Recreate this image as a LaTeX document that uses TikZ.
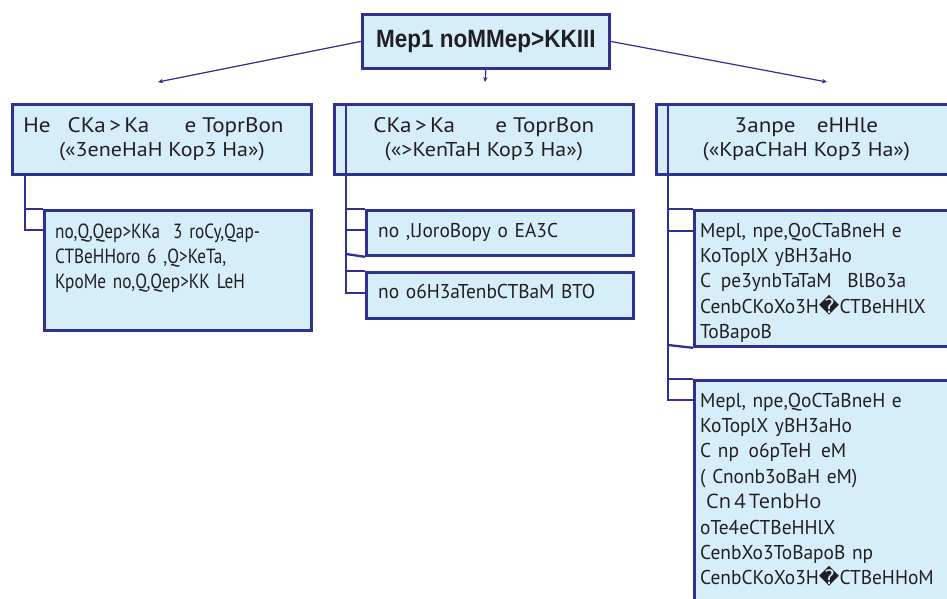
\documentclass[tikz,border=0pt]{standalone}
\usepackage{fontspec}
\usetikzlibrary{arrows.meta}
\setmainfont{PT Sans}
\newfontfamily\titlefont{Liberation Sans}[FakeStretch=0.9]
\newfontfamily\headfont{PT Sans}[FakeStretch=1.1]
\newfontfamily\bodyfont{PT Sans}[FakeStretch=0.97]
\newfontfamily\condfont{PT Sans}[FakeStretch=0.84]
\newfontfamily\widefont{Open Sans}
\newfontfamily\repfont{DejaVu Sans}
\newcommand{\repch}{{\repfont\char"FFFD}}
\definecolor{dblue}{HTML}{2E3192}
\definecolor{lblue}{HTML}{D5EEFA}
\definecolor{tgray}{HTML}{231F20}
\begin{document}
\begin{tikzpicture}[x=1pt,y=-1pt,
  boxframe/.style={draw=dblue, line width=2.8pt, fill=lblue, inner sep=0pt, anchor=north west},
  conn/.style={draw=dblue, line width=2.3pt},
  arr/.style={draw=dblue, line width=1.2pt, -{Stealth[length=5pt,width=4.5pt]}},
  headtxt/.style={text=tgray, align=center, font=\headfont\fontsize{20}{24}\selectfont},
  bodytxt/.style={text=tgray, inner sep=0pt, anchor=base west, align=left, text width=250pt, font=\bodyfont\fontsize{20}{25.4}\selectfont}]
\useasboundingbox (0,0) rectangle (947,598);
\clip (0,0) rectangle (947,598);
\fill[white] (0,0) rectangle (947,598);

% top
\node[boxframe, minimum width=247pt, minimum height=54pt, text=tgray,
  font=\titlefont\bfseries\fontsize{25}{30}\selectfont] (top) at (361,13) {Mep1 noMMep>KKIII};
\coordinate (aL) at (158,82);
\coordinate (aM) at (485,82);
\coordinate (aR) at (827,82);
\draw[arr] (top.west) -- (aL);
\draw[arr] (top.south) -- (aM);
\draw[arr] (top.east) -- (aR);

% headers
\node[boxframe, minimum width=299pt, minimum height=70pt, headtxt] (hL) at (11,103)
  {{\fontsize{21}{24}\selectfont He\hspace{11pt} CKa\,>\,Ka\hspace{29pt} e ToprBon\hspace*{17pt}}\\(«3eneHaH Kop3 Ha»)};
\node[boxframe, minimum width=299pt, minimum height=70pt, headtxt] (hM) at (333,103)
  {{\fontsize{21}{24}\selectfont CKa\,>\,Ka\hspace{34pt} e ToprBon}\\(«>KenTaH Kop3 Ha»)};
\node[boxframe, minimum width=300pt, minimum height=70pt, headtxt] (hR) at (655,103)
  {{\fontsize{21}{24}\selectfont 3anpe\hspace{15pt} eHHle}\\(«KpaCHaH Kop3 Ha»)};

% children
\node[boxframe, minimum width=267pt, minimum height=120pt] (cL1) at (43,209) {};
\node[boxframe, minimum width=267pt, minimum height=45pt] (cM1) at (365,209) {};
\node[boxframe, minimum width=267pt, minimum height=46pt] (cM2) at (365,271) {};
\node[boxframe, minimum width=262pt, minimum height=136pt] (cR1) at (693,209) {};
\node[boxframe, minimum width=262pt, minimum height=240pt] (cR2) at (693,379) {};

% texts
\node[bodytxt, font=\condfont\fontsize{20.5}{25}\selectfont] (tL1) at ([xshift=12pt,yshift=-29pt]cL1.north west)
  {no,Q,Qep>KKa\hspace{6pt} 3 roCy,Qap-\\CTBeHHoro 6 ,Q>KeTa,\\KpoMe no,Q,Qep>KK LeH};
\node[bodytxt] (tM1) at ([xshift=13pt,yshift=-28pt]cM1.north west) {no ,l\kern1ptJoroBopy o EA3C};
\node[bodytxt] (tM2) at ([xshift=13pt,yshift=-27pt]cM2.north west) {no o6H3aTenbCTBaM BTO};
\node[bodytxt] (tR1) at ([xshift=7pt,yshift=-28pt]cR1.north west)
  {Mepl, npe,QoCTaBneH e\\KoToplX yBH3aHo\\C\hspace{3pt} pe3ynbTaTaM\hspace{9pt} BlBo3a\\CenbCKoXo3H\repch CTBeHHlX\\ToBapoB};
\node[bodytxt] (tR2) at ([xshift=7pt,yshift=-28pt]cR2.north west)
  {Mepl, npe,QoCTaBneH e\\KoToplX yBH3aHo\\C np\hspace{3pt} o6pTeH\hspace{3pt} eM\\( Cnonb3oBaH eM)\\\hspace*{6pt}{\widefont Cn\,4\,TenbHo}\\oTe4eCTBeHHlX\\CenbXo3ToBapoB np\\CenbCKoXo3H\repch CTBeHHoM};

% connectors
\coordinate (vL0) at (25,173); \coordinate (vL1) at (25,230);
\draw[conn] (vL0) -- (vL1) -- (vL1 -| cL1.west);
\draw[conn] (25,209) -- (cL1.north west);

\coordinate (vM0) at (346,103); \coordinate (vM1) at (346,230); \coordinate (vM2) at (346,293);
\draw[conn] (vM0) -- (vM2) -- (vM2 -| cM2.west);
\draw[conn] (vM1) -- (vM1 -| cM1.west);
\draw[conn] (346,209) -- (cM1.north west);
\draw[conn] (346,254) -- (cM1.south west);
\draw[conn] (346,271) -- (cM2.north west);

\coordinate (vR0) at (668,103); \coordinate (vR1) at (668,231); \coordinate (vR2) at (668,400);
\draw[conn] (vR0) -- (vR2) -- (vR2 -| cR2.west);
\draw[conn] (vR1) -- (vR1 -| cR1.west);
\draw[conn] (668,209) -- (cR1.north west);
\draw[conn] (668,345) -- (cR1.south west);
\draw[conn] (668,379) -- (cR2.north west);
\end{tikzpicture}
\end{document}
